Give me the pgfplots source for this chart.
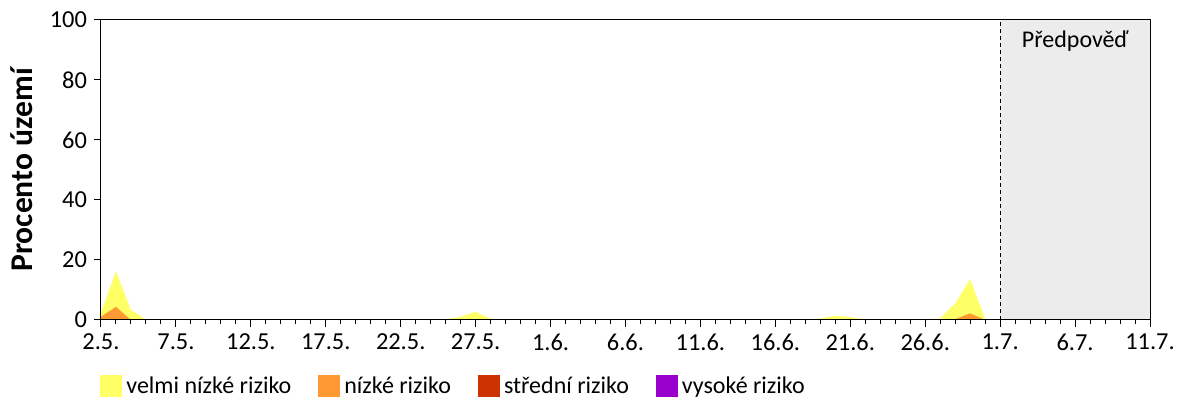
\documentclass[border=0pt]{standalone}
\usepackage{pgfplots}
\pgfplotsset{compat=1.18}
\usepackage{pgfplotstable}
\usepackage{fontspec}
\setmainfont{Carlito}
\definecolor{cy}{RGB}{255,255,102}
\definecolor{co}{RGB}{255,153,51}
\definecolor{cr}{RGB}{204,51,0}
\definecolor{cp}{RGB}{153,0,204}
\definecolor{fc}{RGB}{236,236,236}
\pgfplotstableread{
day y o r p
0 2.5 1.1 0 0
1 16.2 4.4 0 0
2 3.3 0 0 0
3 0.2 0 0 0
4 0 0 0 0
5 0 0 0 0
6 0 0 0 0
7 0 0 0 0
8 0 0 0 0
9 0 0 0 0
10 0 0 0 0
11 0 0 0 0
12 0 0 0 0
13 0 0 0 0
14 0 0 0 0
15 0 0 0 0
16 0 0 0 0
17 0 0 0 0
18 0 0 0 0
19 0 0 0 0
20 0 0 0 0
21 0 0 0 0
22 0 0 0 0
23 0.2 0 0 0
24 1.1 0 0 0
25 2.7 0 0 0
26 0.4 0 0 0
27 0 0 0 0
28 0.2 0 0 0
29 0 0 0 0
30 0 0 0 0
31 0 0 0 0
32 0 0 0 0
33 0 0 0 0
34 0 0 0 0
35 0 0 0 0
36 0 0 0 0
37 0 0 0 0
38 0 0 0 0
39 0 0 0 0
40 0 0 0 0
41 0 0 0 0
42 0 0 0 0
43 0 0 0 0
44 0 0 0 0
45 0 0 0 0
46 0 0 0 0
47 0 0 0 0
48 0.5 0 0 0
49 1.4 0 0 0
50 0.9 0 0 0
51 0.2 0 0 0
52 0 0 0 0
53 0 0 0 0
54 0 0 0 0
55 0.3 0 0 0
56 0.5 0 0 0
57 5.5 0.3 0 0
58 13.6 2.2 0 0
59 0.3 0 0 0
60 0.3 0 0 0
61 0 0 0 0
}\risk
\begin{document}
\begin{tikzpicture}
\useasboundingbox (-50.5pt,-40pt) rectangle (549.5pt,160pt);
\begin{axis}[
 at={(0,0)}, anchor=south west,
 width=524.5pt, height=150pt, scale only axis,
 xmin=0, xmax=70, ymin=0, ymax=100,
 xtick={0,5,...,70},
 xticklabels={2.5.,7.5.,12.5.,17.5.,22.5.,27.5.,1.6.,6.6.,11.6.,16.6.,21.6.,26.6.,1.7.,6.7.,11.7.},
 minor xtick={0,...,70},
 ytick={0,20,...,100},
 tick align=outside,
 xtick pos=bottom, ytick pos=left,
 major tick length=3.5pt, minor tick length=2pt,
 tick style={black, line width=0.5pt},
 axis line style={line width=0.5pt},
 tick label style={font=\fontsize{12.2}{14}\selectfont},
 /pgf/number format/assume math mode=true,
 axis on top,
 ylabel={\bfseries Procento území},
 every axis y label/.style={at={(axis description cs:-0.0753,0.5)}, rotate=90, anchor=center, font=\fontsize{15.8}{18}\selectfont},
 legend style={at={(axis description cs:0,0)}, anchor=north west, xshift=-0.5pt, yshift=-26pt,
   draw=none, fill=none, inner sep=0pt, font=\fontsize{12}{14}\selectfont,
   /tikz/every even column/.append style={column sep=11.5pt}},
 legend columns=4,
 legend cell align=left,
 legend image code/.code={\fill[#1] (0pt,-5.5pt) rectangle (11pt,5.5pt);},
]
\addplot[fill=fc, draw=none, forget plot] coordinates {(60,0) (60,100) (70,100) (70,0)} \closedcycle;
\addplot[fill=cy, draw=none] table[x=day, y=y] {\risk} \closedcycle;
\addplot[fill=co, draw=none] table[x=day, y=o] {\risk} \closedcycle;
\addplot[fill=cr, draw=none] table[x=day, y=r] {\risk} \closedcycle;
\addplot[fill=cp, draw=none] table[x=day, y=p] {\risk} \closedcycle;
\addplot[black, line width=0.5pt, dash pattern=on 2pt off 1.5pt, forget plot] coordinates {(60,0) (60,100)};
\node[font=\fontsize{12}{14}\selectfont] at (axis cs:65,93) {Předpověď};
\legend{velmi nízké riziko, nízké riziko, střední riziko, vysoké riziko}
\end{axis}
\end{tikzpicture}
\end{document}
